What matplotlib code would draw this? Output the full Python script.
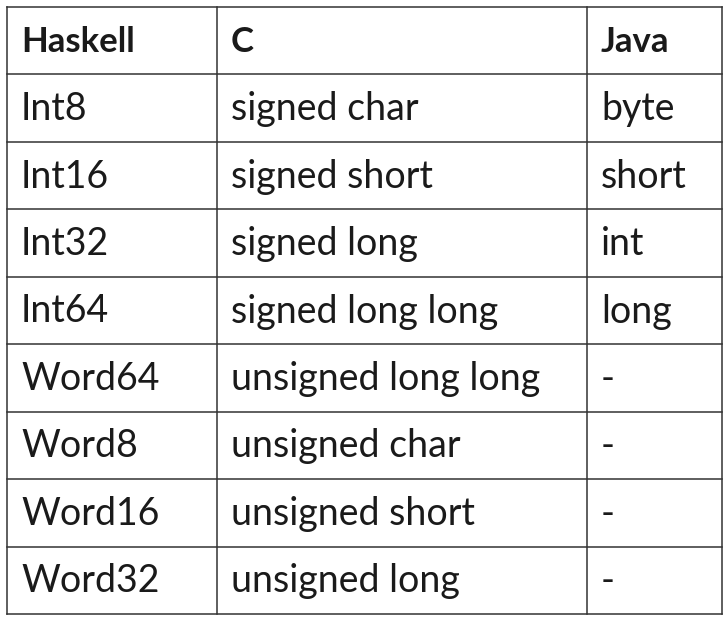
import matplotlib.pyplot as plt

header = ["Haskell", "C", "Java"]
haskell = ["Int8", "Int16", "Int32", "Int64", "Word64", "Word8", "Word16", "Word32"]
c_types = ["signed char", "signed short", "signed long", "signed long long",
           "unsigned long long", "unsigned char", "unsigned short", "unsigned long"]
java = ["byte", "short", "int", "long", "-", "-", "-", "-"]

W, H = 725, 620
col_edges = [7, 217, 587, 722]
top, bottom = 7, 614
nrows = len(haskell) + 1
row_h = (bottom - top) / nrows

fig = plt.figure(figsize=(W / 100, H / 100), dpi=100)
ax = fig.add_axes([0, 0, 1, 1])
ax.set_xlim(0, W)
ax.set_ylim(H, 0)
ax.axis("off")

lc = "#333333"
for x in col_edges:
    ax.plot([x, x], [top, bottom], color=lc, lw=1.1)
for i in range(nrows + 1):
    y = top + i * row_h
    ax.plot([col_edges[0], col_edges[-1]], [y, y], color=lc, lw=1.1)

rows = [header] + [list(r) for r in zip(haskell, c_types, java)]
for i, row in enumerate(rows):
    yc = top + (i + 0.5) * row_h
    for j, txt in enumerate(row):
        ax.text(col_edges[j] + 14, yc + 1, txt, family="Lato",
                fontsize=25 if i == 0 else 27,
                fontweight="bold" if i == 0 else "normal",
                va="center", ha="left", color="#1a1a1a")

fig.savefig("out.png", dpi=100)
